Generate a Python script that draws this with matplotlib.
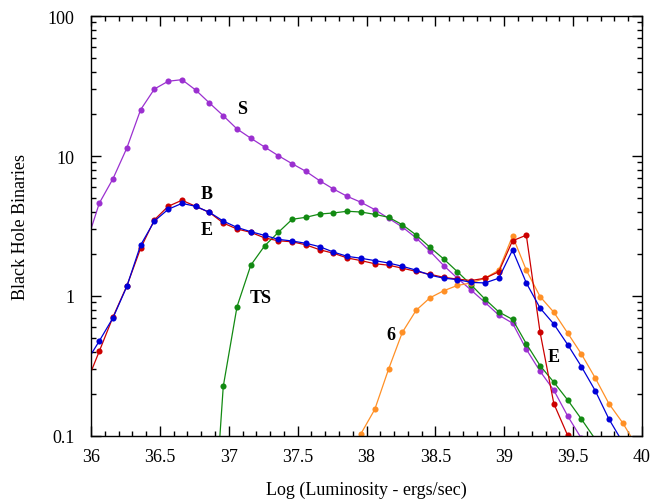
import numpy as np
import matplotlib
matplotlib.use("Agg")
import matplotlib.pyplot as plt
from matplotlib.ticker import MultipleLocator, FuncFormatter, LogLocator

nan = np.nan

# Log luminosity bins (ergs/sec)
lum = [35.96, 36.06, 36.16, 36.26, 36.36, 36.46, 36.56, 36.66, 36.76, 36.86,
       36.96, 37.06, 37.16, 37.26, 37.36, 37.46, 37.56, 37.66, 37.76, 37.86,
       37.96, 38.06, 38.16, 38.26, 38.36, 38.46, 38.56, 38.66, 38.76, 38.86,
       38.96, 39.06, 39.16, 39.26, 39.36, 39.46, 39.56, 39.66, 39.76, 39.86,
       39.96]

s_vals = [2.27, 4.6, 6.9, 11.4, 21.4, 30.1, 34.2, 35.1, 29.6, 23.9,
          19.4, 15.6, 13.4, 11.6, 10.05, 8.81, 7.77, 6.66, 5.81, 5.15,
          4.67, 4.14, 3.59, 3.11, 2.60, 2.09, 1.65, 1.34, 1.10, 0.90,
          0.73, 0.64, 0.416, 0.290, 0.212, 0.139, 0.096, nan, nan, nan,
          nan]

b_vals = [0.23, 0.403, 0.71, 1.18, 2.19, 3.5, 4.37, 4.83, 4.37, 3.95,
          3.32, 3.01, 2.85, 2.60, 2.48, 2.44, 2.32, 2.14, 2.02, 1.87,
          1.79, 1.70, 1.66, 1.58, 1.50, 1.43, 1.36, 1.32, 1.29, 1.34,
          1.49, 2.48, 2.72, 0.55, 0.17, 0.101, nan, nan, nan, nan,
          nan]

e_vals = [0.33, 0.477, 0.70, 1.17, 2.31, 3.43, 4.16, 4.59, 4.37, 3.96,
          3.43, 3.09, 2.88, 2.71, 2.54, 2.47, 2.38, 2.25, 2.06, 1.92,
          1.86, 1.79, 1.72, 1.63, 1.53, 1.41, 1.34, 1.31, 1.25, 1.24,
          1.34, 2.13, 1.24, 0.82, 0.63, 0.45, 0.313, 0.211, 0.132, 0.09,
          nan]

ts_vals = [nan, nan, nan, nan, nan, nan, nan, nan, nan, 0.008,
           0.226, 0.84, 1.66, 2.28, 2.85, 3.53, 3.65, 3.85, 3.92, 4.03,
           3.98, 3.83, 3.65, 3.23, 2.73, 2.23, 1.84, 1.49, 1.20, 0.95,
           0.77, 0.68, 0.456, 0.318, 0.242, 0.181, 0.132, 0.095, nan, nan,
           nan]

six_vals = [nan, nan, nan, nan, nan, nan, nan, nan, nan, nan,
            nan, nan, nan, nan, nan, nan, nan, nan, nan, nan,
            0.104, 0.155, 0.30, 0.55, 0.79, 0.97, 1.09, 1.19, 1.24, 1.34,
            1.53, 2.68, 1.53, 0.99, 0.765, 0.544, 0.385, 0.26, 0.17, 0.124,
            0.085]

series = [
    ("S", s_vals, "#9b30d0"),
    ("TS", ts_vals, "#128a12"),
    ("6", six_vals, "#ff9026"),
    ("B", b_vals, "#cc0000"),
    ("E", e_vals, "#0000d8"),
]

# label name, x, y
labels = [("S", 37.10, 21.9), ("B", 36.84, 5.42), ("E", 36.84, 2.98),
          ("TS", 37.23, 0.97), ("6", 38.18, 0.53), ("E", 39.36, 0.371)]

plt.rcParams['font.family'] = ['Liberation Serif', 'DejaVu Serif']

fig = plt.figure(figsize=(6.52, 5.02), dpi=100)
ax = fig.add_axes([0.1396, 0.1295, 0.8451, 0.8366])

for name, vals, color in series:
    ax.plot(lum, vals, color=color, lw=0.9, marker='o', ms=4.4,
            markeredgewidth=0)

for text, x, y in labels:
    ax.text(x, y, text, fontsize=13, fontweight='bold', ha='center', va='center')

ax.set_yscale('log')
ax.set_xlim(36, 40)
ax.set_ylim(0.1, 100)

ax.xaxis.set_major_locator(MultipleLocator(0.5))
ax.xaxis.set_minor_locator(MultipleLocator(0.1))
ax.xaxis.set_major_formatter(FuncFormatter(lambda v, p: f"{v:g}"))
ax.yaxis.set_major_locator(LogLocator(base=10))
ax.yaxis.set_minor_locator(LogLocator(base=10, subs=np.arange(2, 10)))
ax.yaxis.set_major_formatter(FuncFormatter(lambda v, p: f"{v:g}"))
ax.yaxis.set_minor_formatter(FuncFormatter(lambda v, p: ""))

ax.tick_params(which='both', direction='in', top=True, right=True,
               labelsize=13, width=1.0)
ax.tick_params(which='major', length=7)
ax.tick_params(which='minor', length=3.5)
ax.tick_params(axis='x', pad=9)
ax.tick_params(axis='y', pad=12)
for sp in ax.spines.values():
    sp.set_linewidth(1.0)

ax.set_xlabel("Log (Luminosity - ergs/sec)", fontsize=13, labelpad=11)
ax.set_ylabel("Black Hole Binaries", fontsize=13, labelpad=13)

fig.savefig("out.png", dpi=100)
